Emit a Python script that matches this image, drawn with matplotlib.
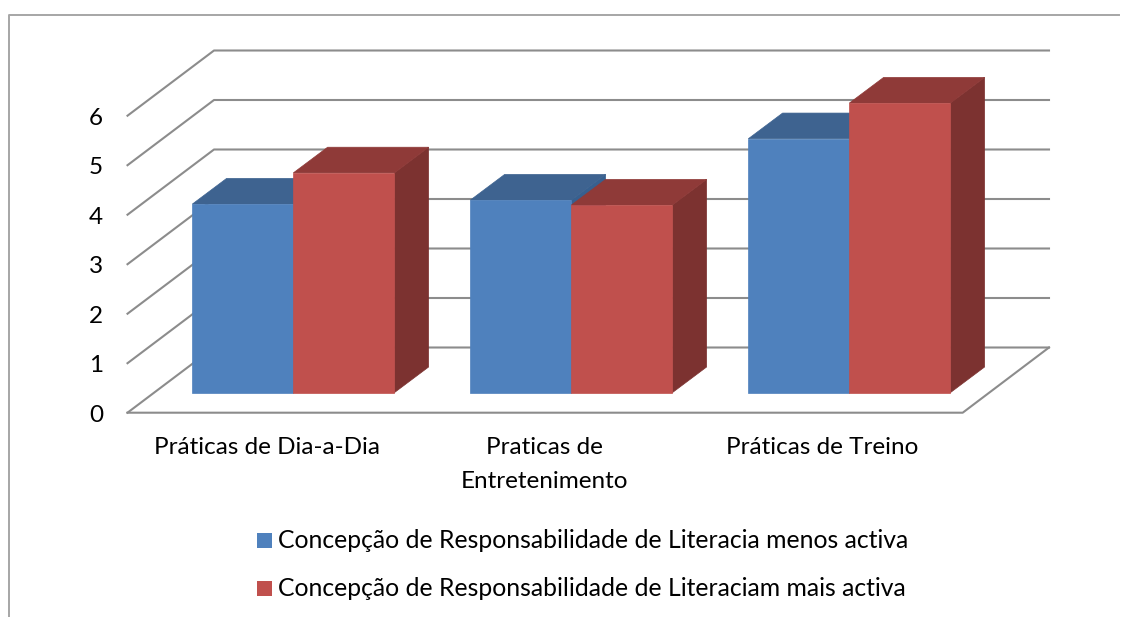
import matplotlib
matplotlib.use('Agg')
import matplotlib.pyplot as plt
from matplotlib.patches import Polygon, Rectangle

categories = ['Práticas de Dia-a-Dia', 'Praticas de\nEntretenimento', 'Práticas de Treino']
series_names = ['Concepção de Responsabilidade de Literacia menos activa',
                'Concepção de Responsabilidade de Literaciam mais activa']
menos_activa = [3.81, 3.89, 5.13]
mais_activa = [4.44, 3.79, 5.85]
y_ticks = [0, 1, 2, 3, 4, 5, 6]

W, H = 1133, 617
# one category step is 278 px, one value unit is 49.5 px
PX_X = 278
PX_Y = 49.5
X0_PX = 293.3   # pixel of category 0 centre
Y0_PX = 392.7   # pixel of value 0 on the bars' front face

plt.rcParams['font.family'] = ['Lato', 'DejaVu Sans']

fig = plt.figure(figsize=(W / 100, H / 100), dpi=100, facecolor='white')
ax = fig.add_axes([0, 0, 1, 1])
# axes cover the whole figure, scaled so x is category index and y is value
ax.set_xlim(-X0_PX / PX_X, (W - X0_PX) / PX_X)
ax.set_ylim((Y0_PX - H) / PX_Y, Y0_PX / PX_Y)
ax.axis('off')


def px(x, y):
    return (x - X0_PX) / PX_X, (Y0_PX - y) / PX_Y


# outer frame
frame = '#a6a6a6'
ax.plot(*zip(px(9, 617), px(9, 15), px(1119, 15)), color=frame, lw=1.4, zorder=0)

# walls and floor, behind the bars
grid = '#8c8c8c'
front_x, front_y0 = px(127.5, 412.7)
back_x, back_y0 = px(214, 347.5)
right_x, _ = px(1049, 347.5)
floor_right_x, _ = px(962.7, 412.7)
for t in y_ticks:
    ax.plot([front_x, back_x, right_x], [front_y0 + t, back_y0 + t, back_y0 + t],
            color=grid, lw=1.5, zorder=0)
ax.plot([front_x, floor_right_x, right_x], [front_y0, front_y0, back_y0], color=grid, lw=1.5, zorder=0)

# bars
bar_w = 101 / PX_X
depth_x = 34.3 / PX_X
depth_y = 25.7 / PX_Y
styles = [('#4f81bd', '#3e6390', '#37608f'), ('#c0504d', '#8f3a38', '#7c3230')]


def draw_bar(left, value, colors):
    front, top, side = colors
    r = left + bar_w
    ax.add_patch(Polygon([(r, 0), (r + depth_x, depth_y), (r + depth_x, value + depth_y), (r, value)],
                         fc=side, ec=side, lw=0.5))
    ax.add_patch(Polygon([(left, value), (left + depth_x, value + depth_y),
                          (r + depth_x, value + depth_y), (r, value)], fc=top, ec=top, lw=0.5))
    ax.add_patch(Rectangle((left, 0), bar_w, value, fc=front, ec=front, lw=0.5))


for i in range(len(categories)):
    draw_bar(i - bar_w, menos_activa[i], styles[0])
    draw_bar(i, mais_activa[i], styles[1])

# tick labels, the digits sit a bit under the wall lines
tick_nudge = 2.5 / PX_Y
for t in y_ticks:
    ax.text(px(96, 0)[0], front_y0 + t - tick_nudge, str(t), ha='center', va='center',
            fontsize=17.5, color='black')
for i, c in enumerate(categories):
    ax.text(i - 0.096, px(0, 437.5)[1], c, ha='center', va='top', fontsize=17.5, color='black', linespacing=1.72)

# legend
for name, colors, y in zip(series_names, styles, [540, 588]):
    ax.add_patch(Rectangle(px(257, y + 7.5), 15 / PX_X, 15 / PX_Y, fc=colors[0], ec='none'))
    ax.text(px(278, y + 1)[0], px(0, y + 1)[1], name, ha='left', va='center', fontsize=17.8, color='black')

fig.savefig('out.png', dpi=100)
